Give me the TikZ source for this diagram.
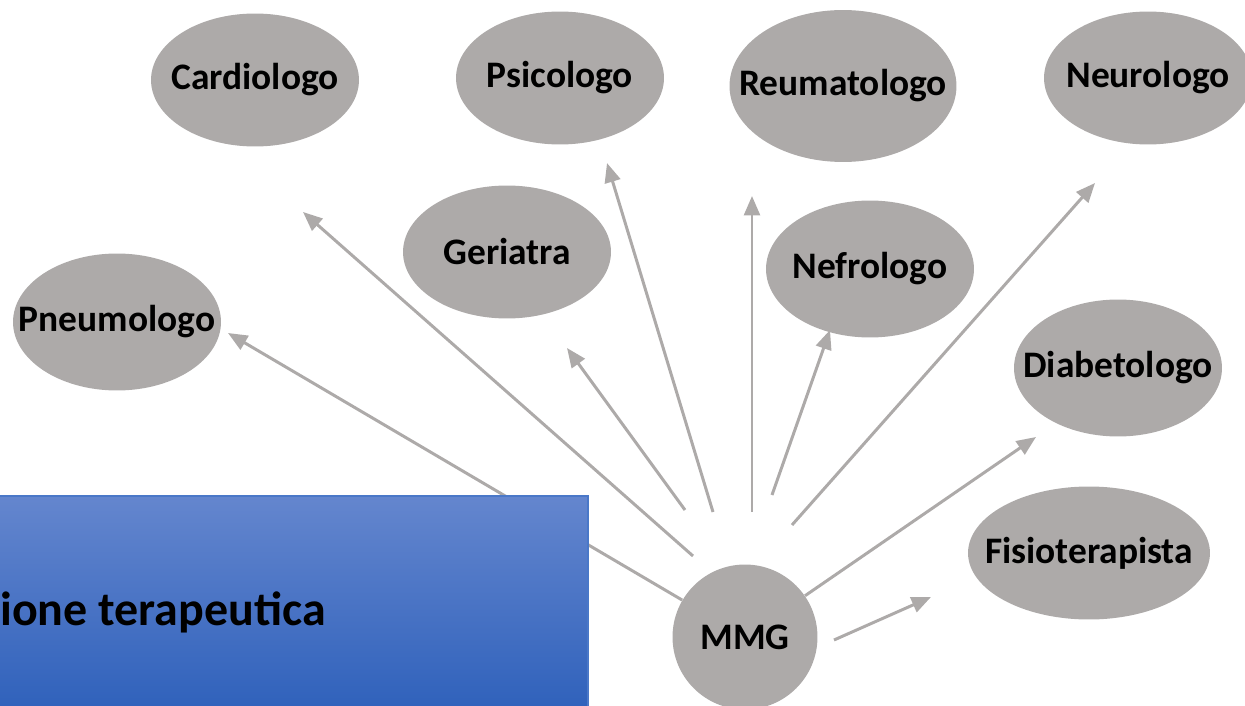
\documentclass[tikz,border=0pt]{standalone}
\usepackage{fontspec}
\setmainfont{Carlito}
\usetikzlibrary{arrows.meta,shapes.geometric}
\definecolor{specgrey}{HTML}{ADAAA9}
\definecolor{boxtop}{HTML}{6486CE}
\definecolor{boxbot}{HTML}{2F61BB}
\definecolor{boxline}{HTML}{4A78C8}

\begin{document}
\begin{tikzpicture}[x=0.02cm, y=-0.02cm,
  spec/.style={ellipse, fill=specgrey, inner sep=0pt, minimum width=4.16cm, minimum height=2.66cm,
    font=\bfseries\fontsize{21.3}{25}\selectfont,
    execute at begin node={\hbox to 0pt\bgroup\hss}, execute at end node={\hss\egroup}},
  link/.style={draw=specgrey, line width=1.7pt, -{Triangle[length=11pt,width=9pt]}},
]
\useasboundingbox (0,0) rectangle (1245,706);

% specialists
\node[spec] (cardio) at (255,80) {Cardiologo};
\node[spec] (psico) at (560,78) {Psicologo};
\node[spec, minimum width=4.54cm, minimum height=3.04cm] (reuma) at (843,86) {Reumatologo};
\node[spec] (neuro) at (1148,78) {Neurologo};
\node[spec] (geria) at (507,252) {Geriatra};
\node[spec, minimum height=2.74cm] (nefro) at (870,269) {Nefrologo};
\node[spec, minimum height=2.74cm] (pneumo) at (117,322) {Pneumologo};
\node[spec, minimum height=2.74cm] (diabe) at (1118,368) {Diabetologo};
\node[spec, minimum width=4.84cm] (fisio) at (1089,553) {Fisioterapista};

% MMG
\node[circle, fill=specgrey, minimum size=2.9cm, inner sep=0pt, font=\bfseries\fontsize{21.3}{25}\selectfont] (mmg) at (745,637) {MMG};

% free ends of the arrows
\coordinate (tCardio) at (303,212);
\coordinate (sCardio) at (693,556);
\coordinate (tGeria) at (567,348);
\coordinate (sGeria) at (685,510);
\coordinate (tPsico) at (607,163);
\coordinate (sPsico) at (713,512);
\coordinate (tReuma) at (752,196);
\coordinate (sReuma) at (752,512);
\coordinate (tNefro) at (830,330);
\coordinate (sNefro) at (772,495);
\coordinate (tNeuro) at (1095,183);
\coordinate (sNeuro) at (792,525);
\coordinate (tPneumo) at (228,333);
\coordinate (tDiabe) at (1036,437);
\coordinate (tFisio) at (931,597);
\coordinate (sFisio) at (834,640);

\draw[link] (mmg) -- (tPneumo);
\draw[link] (sCardio) -- (tCardio);
\draw[link] (sGeria) -- (tGeria);
\draw[link] (sPsico) -- (tPsico);
\draw[link] (sReuma) -- (tReuma);
\draw[link] (sNefro) -- (tNefro);
\draw[link] (sNeuro) -- (tNeuro);
\draw[link] (mmg) -- (tDiabe);
\draw[link] (sFisio) -- (tFisio);

% blue box
\shade[top color=boxtop, bottom color=boxbot, draw=boxline, line width=0.6pt] (-5,496) rectangle (588,712);
\node[anchor=base west, inner sep=0pt, font=\bfseries\fontsize{27.3}{32}\selectfont] (title) at (0,625) {ione terapeutica};
\end{tikzpicture}
\end{document}
